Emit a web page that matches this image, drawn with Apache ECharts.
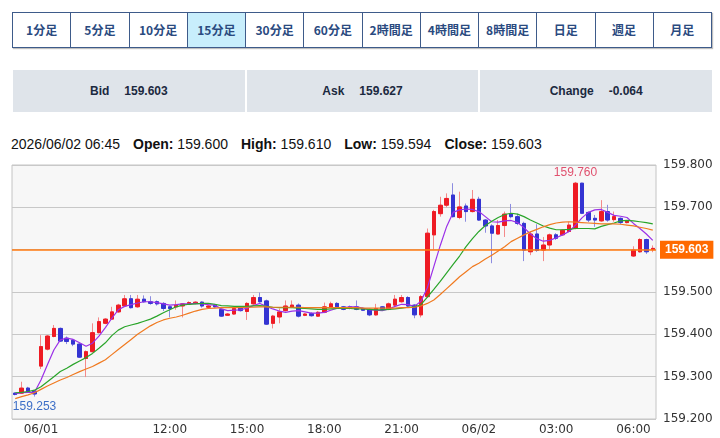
<!DOCTYPE html>
<html>
<head>
<meta charset="utf-8">
<script src="https://cdn.jsdelivr.net/npm/echarts@6/dist/echarts.min.js"></script>
<style>
body { margin: 0; background: #fff; width: 720px; height: 438px; overflow: hidden; position: relative; }
.tabs { position: absolute; left: 12px; top: 12px; width: 700px; height: 36px; display: flex; border: 1px solid #3e5b8a; box-sizing: border-box; box-shadow: 1px 1px 1px rgba(0,0,0,0.25); }
.tabs span { flex: 1; text-align: center; font: bold 12px "Noto Sans CJK JP", sans-serif; line-height: 34px; color: #2a4a7f; border-left: 1px solid #3e5b8a; background: #fff; }
.tabs span:first-child { border-left: none; }
.tabs span.on { background: #c8eefc; }
.quote { position: absolute; left: 13px; top: 70px; width: 699px; height: 42px; display: flex; }
.quote div { flex: 1; background: #dfe4ea; margin-left: 2px; text-align: center; font: bold 12px "Liberation Sans", Arial, sans-serif; line-height: 42px; color: #1b2940; }
.quote div:first-child { margin-left: 0; }
.quote b { margin-left: 15px; }
.info { position: absolute; left: 11px; top: 135px; display: flex; gap: 13px; font: 14px "Liberation Sans", Arial, sans-serif; line-height: 18px; color: #111; white-space: nowrap; }
#chart { position: absolute; left: 0; top: 155px; width: 720px; height: 283px; }
</style>
</head>
<body>
<div class="tabs">
    <span>1分足</span><span>5分足</span><span>10分足</span><span class="on">15分足</span><span>30分足</span><span>60分足</span>
    <span>2時間足</span><span>4時間足</span><span>8時間足</span><span>日足</span><span>週足</span><span>月足</span>
</div>
<div class="quote">
    <div>Bid<b>159.603</b></div>
    <div>Ask<b>159.627</b></div>
    <div>Change<b>-0.064</b></div>
</div>
<div class="info">
    <span>2026/06/02 06:45</span>
    <span><b>Open:</b> 159.600</span>
    <span><b>High:</b> 159.610</span>
    <span><b>Low:</b> 159.594</span>
    <span><b>Close:</b> 159.603</span>
</div>
<div id="chart"></div>
<script>
// 15分足 06/01 06:00 - 06/02 06:45
const startDay = ['06/01', '06/02']
const tickTimes = ['06/01 07:00', '06/01 12:00', '06/01 15:00', '06/01 18:00', '06/01 21:00', '06/02 00:00', '06/02 03:00', '06/02 06:00']
const tickLabels = ['06/01', '12:00', '15:00', '18:00', '21:00', '06/02', '03:00', '06:00']

const opens = [159.261,159.261,159.273,159.266,159.325,159.365,159.395,159.414,159.391,159.386,
    159.377,159.343,159.359,159.404,159.426,159.436,159.453,159.467,159.484,159.465,
    159.483,159.477,159.477,159.473,159.465,159.465,159.467,159.472,159.473,159.476,
    159.464,159.469,159.459,159.445,159.448,159.462,159.454,159.472,159.487,159.479,
    159.426,159.441,159.456,159.464,159.469,159.445,159.449,159.443,159.452,159.464,
    159.473,159.465,159.465,159.465,159.461,159.459,159.446,159.465,159.459,159.469,
    159.477,159.487,159.469,159.446,159.489,159.635,159.685,159.705,159.729,159.676,
    159.703,159.690,159.719,159.670,159.656,159.637,159.657,159.684,159.678,159.662,
    159.595,159.637,159.599,159.611,159.635,159.635,159.643,159.650,159.757,159.688,
    159.674,159.668,159.690,159.671,159.674,159.664,159.585,159.595,159.624,159.600]
const closes = [159.258,159.273,159.265,159.259,159.371,159.396,159.414,159.384,159.383,159.377,
    159.346,159.359,159.404,159.430,159.436,159.453,159.469,159.484,159.463,159.483,
    159.477,159.473,159.472,159.461,159.461,159.469,159.472,159.475,159.476,159.467,
    159.467,159.465,159.443,159.448,159.461,159.456,159.473,159.487,159.477,159.424,
    159.443,159.453,159.467,159.469,159.443,159.448,159.444,159.452,159.465,159.472,
    159.465,159.459,159.461,159.459,159.457,159.446,159.461,159.459,159.472,159.483,
    159.487,159.467,159.446,159.489,159.639,159.690,159.705,159.721,159.678,159.701,
    159.690,159.719,159.670,159.656,159.639,159.657,159.684,159.678,159.662,159.599,
    159.637,159.598,159.611,159.635,159.627,159.646,159.658,159.757,159.686,159.670,
    159.670,159.690,159.670,159.678,159.664,159.668,159.599,159.624,159.595,159.603]
const lows = [159.256,159.259,159.262,159.253,159.318,159.362,159.393,159.382,159.377,159.372,
    159.344,159.299,159.357,159.402,159.424,159.434,159.451,159.465,159.461,159.463,
    159.475,159.470,159.468,159.455,159.440,159.458,159.440,159.470,159.471,159.463,
    159.462,159.463,159.441,159.444,159.446,159.454,159.434,159.470,159.475,159.422,
    159.414,159.426,159.454,159.462,159.440,159.443,159.442,159.441,159.450,159.462,
    159.463,159.457,159.459,159.457,159.455,159.443,159.444,159.457,159.457,159.467,
    159.475,159.463,159.438,159.440,159.487,159.599,159.678,159.700,159.676,159.672,
    159.666,159.688,159.668,159.640,159.568,159.636,159.630,159.674,159.658,159.573,
    159.587,159.595,159.573,159.600,159.623,159.633,159.641,159.648,159.684,159.665,
    159.654,159.666,159.666,159.666,159.660,159.662,159.583,159.593,159.590,159.594]
const highs = [159.263,159.288,159.276,159.268,159.398,159.398,159.422,159.416,159.395,159.389,
    159.379,159.362,159.426,159.440,159.438,159.465,159.472,159.493,159.493,159.493,
    159.492,159.490,159.480,159.476,159.468,159.480,159.474,159.478,159.478,159.478,
    159.469,159.472,159.461,159.450,159.463,159.465,159.476,159.493,159.499,159.482,
    159.446,159.461,159.480,159.480,159.473,159.450,159.452,159.455,159.475,159.477,
    159.476,159.467,159.468,159.480,159.463,159.461,159.472,159.467,159.475,159.493,
    159.493,159.490,159.471,159.493,159.650,159.694,159.725,159.733,159.757,159.737,
    159.709,159.741,159.725,159.672,159.660,159.670,159.690,159.708,159.685,159.666,
    159.643,159.660,159.630,159.638,159.639,159.648,159.666,159.760,159.758,159.690,
    159.682,159.717,159.706,159.690,159.676,159.670,159.608,159.627,159.626,159.610]

// 移動平均線（短期・中期・長期）
const maShort = [159.259,159.262,159.263,159.263,159.292,159.328,159.363,159.387,159.391,159.388,
    159.380,159.372,159.379,159.396,159.416,159.438,159.458,159.466,159.470,159.474,
    159.477,159.477,159.475,159.472,159.469,159.470,159.472,159.472,159.473,159.472,
    159.470,159.469,159.460,159.456,159.457,159.458,159.462,159.468,159.473,159.466,
    159.460,159.455,159.452,159.455,159.456,159.453,159.450,159.450,159.452,159.457,
    159.462,159.463,159.465,159.465,159.462,159.458,159.457,159.456,159.460,159.466,
    159.471,159.470,159.466,159.478,159.510,159.560,159.610,159.655,159.688,159.694,
    159.696,159.695,159.690,159.678,159.666,159.665,159.668,159.669,159.664,159.652,
    159.637,159.626,159.620,159.622,159.628,159.635,159.643,159.658,159.675,159.688,
    159.694,159.695,159.688,159.681,159.679,159.676,159.662,159.650,159.637,159.622]
const maMid = [159.262,159.263,159.265,159.268,159.276,159.288,159.300,159.312,159.320,159.329,
    159.337,159.345,159.355,159.367,159.380,159.397,159.410,159.418,159.422,159.426,
    159.431,159.436,159.443,159.451,159.458,159.465,159.469,159.471,159.472,159.473,
    159.473,159.471,159.468,159.467,159.466,159.466,159.466,159.467,159.468,159.466,
    159.464,159.463,159.463,159.463,159.462,159.461,159.460,159.459,159.459,159.460,
    159.461,159.461,159.461,159.460,159.460,159.459,159.458,159.458,159.459,159.460,
    159.462,159.464,159.465,159.470,159.488,159.506,159.525,159.545,159.565,159.585,
    159.607,159.626,159.643,159.657,159.667,159.676,159.683,159.686,159.684,159.678,
    159.670,159.663,159.656,159.651,159.647,159.647,159.648,159.650,159.650,159.650,
    159.649,159.655,159.659,159.663,159.668,159.669,159.668,159.666,159.664,159.661]
const maLong = [159.248,159.253,159.257,159.262,159.270,159.278,159.285,159.292,159.298,159.305,
    159.312,159.318,159.324,159.332,159.340,159.352,159.364,159.376,159.388,159.400,
    159.410,159.420,159.428,159.434,159.438,159.441,159.445,159.450,159.455,159.459,
    159.461,159.462,159.463,159.463,159.463,159.463,159.464,159.464,159.465,159.465,
    159.464,159.464,159.464,159.464,159.464,159.463,159.463,159.463,159.463,159.463,
    159.463,159.463,159.463,159.463,159.462,159.462,159.462,159.462,159.462,159.462,
    159.463,159.463,159.464,159.467,159.473,159.481,159.494,159.508,159.522,159.536,
    159.548,159.560,159.568,159.578,159.587,159.597,159.607,159.619,159.627,159.635,
    159.642,159.648,159.654,159.659,159.663,159.665,159.666,159.665,159.664,159.663,
    159.662,159.661,159.661,159.661,159.660,159.658,159.656,159.653,159.650,159.646]

// 時刻ラベル（15分刻み）
const times = []
for (let i = 0; i < opens.length; i++) {
    const m = (6 * 60 + i * 15)
    const day = startDay[Math.floor(m / 1440)]
    const hh = String(Math.floor((m % 1440) / 60)).padStart(2, '0')
    const mm = String(m % 60).padStart(2, '0')
    times.push(day + ' ' + hh + ':' + mm)
}

const ohlc = opens.map((o, i) => [o, closes[i], lows[i], highs[i]])
const bodies = opens.map((o, i) => [o, closes[i], Math.min(o, closes[i]), Math.max(o, closes[i])])
const lastClose = closes[closes.length - 1]
const isTick = (i, v) => tickTimes.includes(v)

const chart = echarts.init(document.getElementById('chart'))
chart.setOption({
    animation: false,
    grid: { left: 12, right: 64, top: 10, bottom: 19, show: true, backgroundColor: '#f7f7f7', borderColor: '#c4c4c4', borderWidth: 1 },
    xAxis: {
        type: 'category',
        data: times,
        boundaryGap: true,
        axisLine: { show: false },
        axisTick: { inside: true, length: 5, alignWithLabel: true, interval: isTick, lineStyle: { color: '#bbb' } },
        axisLabel: {
            interval: isTick,
            formatter: v => tickLabels[tickTimes.indexOf(v)],
            color: '#333', fontSize: 12, fontFamily: 'DejaVu Sans', margin: 5
        },
        splitLine: { show: false }
    },
    yAxis: {
        type: 'value',
        position: 'right',
        min: 159.2,
        max: 159.8,
        interval: 0.1,
        axisLine: { show: false },
        axisTick: { show: false },
        axisLabel: { formatter: v => v.toFixed(3), color: '#333', fontSize: 12, fontFamily: 'DejaVu Sans', margin: 7 },
        splitLine: { lineStyle: { color: '#c8c8c8' } }
    },
    series: [
        {
            name: 'wick',
            type: 'candlestick',
            data: ohlc,
            barWidth: 3,
            itemStyle: { color: '#f48a8a', color0: '#8c8ce0', borderColor: '#f48a8a', borderColor0: '#8c8ce0', borderWidth: 1 },
            markPoint: {
                symbol: 'circle',
                symbolSize: 1,
                itemStyle: { color: 'transparent' },
                data: [
                    { type: 'max', valueDim: 'highest', label: { position: 'top', distance: 3, color: '#e0506e' } },
                    { type: 'min', valueDim: 'lowest', label: { position: 'bottom', distance: 4, color: '#3d6fc7' } }
                ],
                label: { show: true, fontSize: 12, fontFamily: 'Liberation Sans', formatter: p => p.value.toFixed(3) }
            }
        },
        {
            name: 'body',
            type: 'candlestick',
            data: bodies,
            barWidth: 4,
            itemStyle: { color: '#ee1b24', color0: '#3434d2', borderColor: '#ee1b24', borderColor0: '#3434d2', borderWidth: 1 },
            markLine: {
                symbol: 'none',
                silent: true,
                data: [{ yAxis: lastClose }],
                lineStyle: { color: '#ff7a10', type: 'solid', width: 1.5 },
                label: {
                    position: 'end', distance: 4,
                    formatter: lastClose.toFixed(3),
                    backgroundColor: '#ff6a00', color: '#fff', fontWeight: 'bold',
                    fontSize: 12, fontFamily: 'Liberation Sans', padding: [3, 5]
                }
            }
        },
        { name: 'MA short', type: 'line', data: maShort, showSymbol: false, lineStyle: { color: '#9b30e8', width: 1.2 } },
        { name: 'MA mid', type: 'line', data: maMid, showSymbol: false, lineStyle: { color: '#2aa52a', width: 1.2 } },
        { name: 'MA long', type: 'line', data: maLong, showSymbol: false, lineStyle: { color: '#f07a20', width: 1.2 } }
    ]
})
</script>
</body>
</html>
